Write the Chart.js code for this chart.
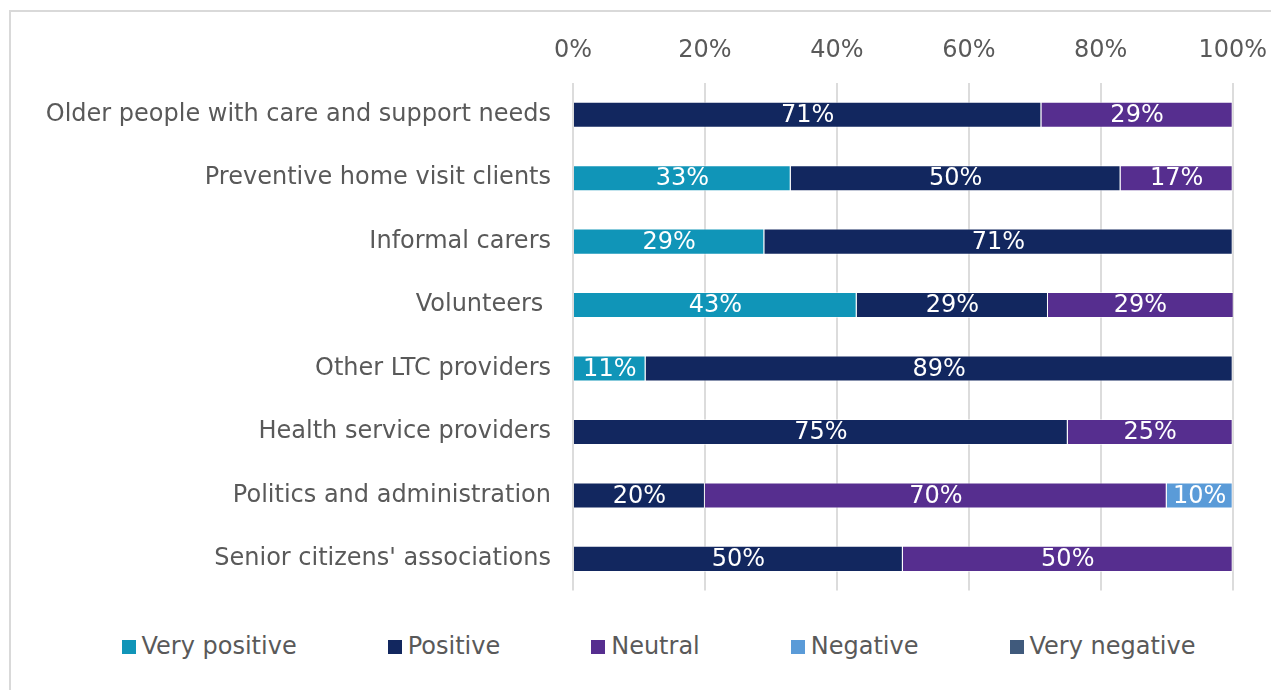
<!DOCTYPE html>
<html>
<head>
<meta charset="utf-8">
<script src="https://cdn.jsdelivr.net/npm/chart.js@4/dist/chart.umd.min.js"></script>
<style>
    html, body { margin: 0; padding: 0; background: #fff; overflow: hidden; }
    #wrap { position: relative; width: 1271px; height: 690px; overflow: hidden;
            font-family: "DejaVu Sans", Verdana, sans-serif; }
    #frame { position: absolute; left: 9px; top: 10px; right: -10px; bottom: -10px;
             border-top: 2px solid #d9d9d9; border-left: 2px solid #d9d9d9; }
    #chartBox { position: absolute; left: 0; top: 0; width: 1285px; height: 627px; }
    #legend { position: absolute; left: 0; top: 632px; width: 1271px; box-sizing: border-box;
              padding-left: 46px; display: flex; justify-content: center; gap: 91px;
              font-size: 24px; color: #595959; line-height: 28px; }
    #legend .item { display: flex; align-items: center; white-space: nowrap; }
    #legend .box { width: 14px; height: 14px; margin-right: 6px; margin-top: 1px; }
</style>
</head>
<body>
<div id="wrap">
    <div id="frame"></div>
    <div id="chartBox"><canvas id="barChart"></canvas></div>
    <div id="legend"></div>
</div>
<script>
// --- Datos ---
const grupos = [
    'Older people with care and support needs',
    'Preventive home visit clients',
    'Informal carers',
    'Volunteers ',
    'Other LTC providers',
    'Health service providers',
    'Politics and administration',
    "Senior citizens' associations"
];

const muyPositivo = [0, 33, 29, 43, 11, 0, 0, 0];
const positivo    = [71, 50, 71, 29, 89, 75, 20, 50];
const neutral     = [29, 17, 0, 29, 0, 25, 70, 50];
const negativo    = [0, 0, 0, 0, 0, 0, 10, 0];
const muyNegativo = [0, 0, 0, 0, 0, 0, 0, 0];

const ticksX = [0, 20, 40, 60, 80, 100];

const series = [
    { label: 'Very positive', data: muyPositivo, color: '#1095b8' },
    { label: 'Positive',      data: positivo,    color: '#12275f' },
    { label: 'Neutral',       data: neutral,     color: '#562e8f' },
    { label: 'Negative',      data: negativo,    color: '#5a9bd8' },
    { label: 'Very negative', data: muyNegativo, color: '#405a7c' }
];

const fuente = 'DejaVu Sans';
const gris = '#595959';

// --- Etiquetas dentro de cada segmento ---
const etiquetasValor = {
    id: 'etiquetasValor',
    afterDatasetsDraw(chart) {
        const ctx = chart.ctx;
        ctx.save();
        ctx.font = `24px "${fuente}"`;
        ctx.fillStyle = '#ffffff';
        ctx.textAlign = 'center';
        ctx.textBaseline = 'middle';
        const area = chart.chartArea;
        chart.data.datasets.forEach((ds, i) => {
            const meta = chart.getDatasetMeta(i);
            meta.data.forEach((bar, j) => {
                const v = ds.data[j];
                if (!v) return;
                const fin = Math.min(bar.x, area.right);
                const centro = (bar.base + fin) / 2;
                ctx.fillText(Math.round(v) + '%', centro, bar.y + 1);
            });
        });
        ctx.restore();
    }
};

const ctxBar = document.getElementById('barChart').getContext('2d');

const barChart = new Chart(ctxBar, {
    type: 'bar',
    data: {
        labels: grupos,
        datasets: series.map(s => ({
            label: s.label,
            data: s.data,
            backgroundColor: s.color,
            borderColor: 'rgba(255,255,255,0.55)',
            borderWidth: 1,
            categoryPercentage: 0.82,
            barPercentage: 0.5
        }))
    },
    options: {
        indexAxis: 'y',
        responsive: true,
        maintainAspectRatio: false,
        animation: false,
        events: [],
        layout: { padding: { top: 36, left: 45, right: 25, bottom: 10 } },
        scales: {
            x: {
                position: 'top',
                stacked: true,
                min: 0,
                max: 100,
                afterBuildTicks(scale) {
                    scale.ticks = ticksX.map(v => ({ value: v }));
                },
                afterFit(scale) { scale.height = 47; },
                ticks: {
                    callback: v => v + '%',
                    color: gris,
                    font: { family: fuente, size: 24 },
                    padding: 18,
                    maxRotation: 0
                },
                grid: { color: '#dcdcdc', lineWidth: 2, drawTicks: false },
                border: { display: false }
            },
            y: {
                stacked: true,
                afterFit(scale) { scale.width = 528; },
                ticks: {
                    color: gris,
                    font: { family: fuente, size: 24 },
                    padding: 22
                },
                grid: { display: false, drawTicks: false },
                border: { display: false }
            }
        },
        plugins: {
            legend: { display: false },
            tooltip: { enabled: false }
        }
    },
    plugins: [etiquetasValor]
});

// --- Leyenda ---
const leyenda = document.getElementById('legend');
barChart.data.datasets.forEach(ds => {
    const item = document.createElement('div');
    item.className = 'item';
    const caja = document.createElement('span');
    caja.className = 'box';
    caja.style.background = ds.backgroundColor;
    const texto = document.createElement('span');
    texto.textContent = ds.label;
    item.appendChild(caja);
    item.appendChild(texto);
    leyenda.appendChild(item);
});
</script>
</body>
</html>
